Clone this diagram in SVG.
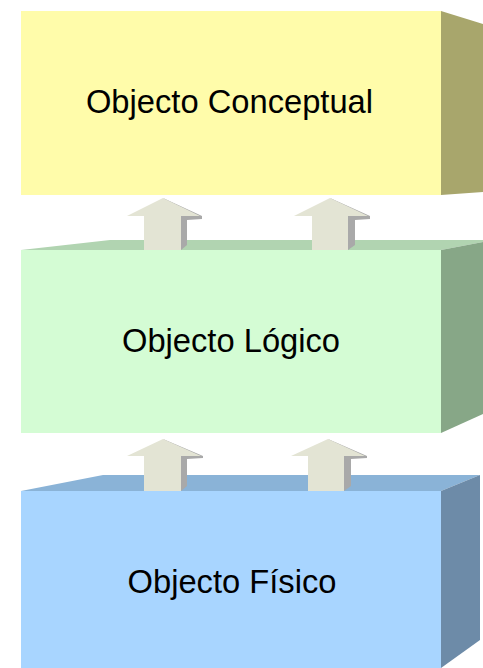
<svg xmlns="http://www.w3.org/2000/svg" width="483" height="668" viewBox="0 0 483 668">
<style>
.lbl{font-family:"Liberation Sans",Arial,sans-serif;font-size:32.7px;fill:#000;text-anchor:middle}
.arw{fill:#E3E4D4}
.shd{fill:#A9A9A9}
</style>
<rect x="0" y="0" width="483" height="668" fill="#fff"/>
<g id="conceptual">
<rect x="21" y="11" width="420" height="184" fill="#FFFCAA"/>
<polygon points="441,11 483,24 483,192 441,195" fill="#A8A66C"/>
<text class="lbl" x="229.5" y="113">Objecto Conceptual</text>
</g>
<g id="logico">
<polygon points="21,250 110,240 483,240 483,242 441,250" fill="#B1D4B1"/>
<rect x="21" y="250" width="420" height="183" fill="#D4FCD4"/>
<polygon points="441,250 483,242 483,414 441,433" fill="#87A787"/>
<text class="lbl" x="231" y="352">Objecto Lógico</text>
</g>
<g id="fisico">
<polygon points="21,491 103,475 480,475 441,491" fill="#8AB3D7"/>
<rect x="21" y="491" width="420" height="177" fill="#A8D5FF"/>
<polygon points="441,491 480,475 480,640 441,668" fill="#6D8BA8"/>
<text class="lbl" x="232" y="593">Objecto Físico</text>
</g>
<g id="connectors">
<g id="a1">
<polygon class="shd" points="163,198 202,216 202,219 187,220 187,245 181,250 181,216"/>
<polygon class="arw" points="163,198 200,216 181,216 181,250 144,250 144,216 127,216"/>
</g>
<g id="a2">
<polygon class="shd" points="330,198 370,216 370,219 355,220 355,245 348,250 348,216"/>
<polygon class="arw" points="330,198 368,216 348,216 348,250 312,250 312,216 294,216"/>
</g>
<g id="a3">
<polygon class="shd" points="163,439 203,456 203,458 187,459 187,486 181,491 181,456"/>
<polygon class="arw" points="163,439 201,456 181,456 181,491 144,491 144,456 127,456"/>
</g>
<g id="a4">
<polygon class="shd" points="328,439 367,456 367,458 351,459 351,486 344,491 344,456"/>
<polygon class="arw" points="328,439 365,456 344,456 344,491 308,491 308,456 291,456"/>
</g>
</g>
</svg>
